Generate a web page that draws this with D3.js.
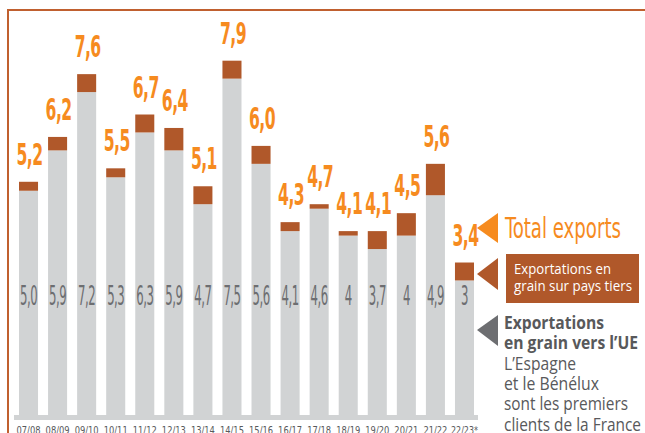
<!doctype html>
<html>
  <head>
    <script src="https://cdnjs.cloudflare.com/ajax/libs/d3/7.8.5/d3.min.js"></script>
    <style>
      body { margin: 0; background: #fff; }
      svg { display: block; }
    </style>
  </head>
  <body>
    <svg width="645" height="433"></svg>
    <script>
      var seasons = ["07/08","08/09","09/10","10/11","11/12","12/13","13/14","14/15","15/16","16/17","17/18","18/19","19/20","20/21","21/22","22/23*"];
      var totalExports = [5.2,6.2,7.6,5.5,6.7,6.4,5.1,7.9,6.0,4.3,4.7,4.1,4.1,4.5,5.6,3.4];
      var euExports = [5.0,5.9,7.2,5.3,6.3,5.9,4.7,7.5,5.6,4.1,4.6,4,3.7,4,4.9,3];
      var totalLabels = ["5,2","6,2","7,6","5,5","6,7","6,4","5,1","7,9","6,0","4,3","4,7","4,1","4,1","4,5","5,6","3,4"];
      var euLabels = ["5,0","5,9","7,2","5,3","6,3","5,9","4,7","7,5","5,6","4,1","4,6","4","3,7","4","4,9","3"];

      var orange = "#f68b1f", brown = "#b0582a", barGrey = "#d1d3d4",
          darkGrey = "#6d6e71", textGrey = "#58595b";
      var condensed = "'DejaVu Sans Condensed','DejaVu Sans',sans-serif";
      var sans = "'Open Sans','Noto Sans',sans-serif";

      var svg = d3.select("svg");

      var x = d3.scaleBand()
          .domain(seasons)
          .range([14, 479])
          .paddingInner(0.345)
          .paddingOuter(0.172);

      var y = d3.scaleLinear()
          .domain([0, 9])
          .range([415, 415 - 9 * 44.85]);

      var rows = seasons.map(function(s, i) {
        return { season: s, total: totalExports[i], eu: euExports[i],
                 totalLabel: totalLabels[i], euLabel: euLabels[i] };
      });

      // frame
      svg.append("path")
          .attr("d", "M8,433 V10 H645")
          .attr("fill", "none")
          .attr("stroke", "#c0602f")
          .attr("stroke-width", 2);

      var bars = svg.append("g").selectAll("g")
          .data(rows)
          .enter()
          .append("g");

      // EU part (grey)
      bars.append("rect")
          .attr("x", d => x(d.season))
          .attr("width", x.bandwidth())
          .attr("y", d => y(d.eu))
          .attr("height", d => y(0) - y(d.eu))
          .attr("fill", barGrey);

      // third countries part (brown)
      bars.append("rect")
          .attr("x", d => x(d.season))
          .attr("width", x.bandwidth())
          .attr("y", d => y(d.total))
          .attr("height", d => y(d.eu) - y(d.total))
          .attr("fill", brown);

      // baseline strip
      svg.append("rect")
          .attr("x", x.range()[0])
          .attr("width", x.range()[1] - x.range()[0] - 1)
          .attr("y", y(0))
          .attr("height", 5)
          .attr("fill", barGrey);

      // total labels
      bars.append("g")
          .attr("transform", d => "translate(" + (x(d.season) + x.bandwidth() / 2 + 1) + "," + (y(d.total) - 17) + ") scale(0.56,1)")
        .append("text")
          .attr("text-anchor", "middle")
          .attr("font-family", condensed)
          .attr("font-weight", "bold")
          .attr("font-size", 31)
          .attr("letter-spacing", -1)
          .attr("fill", orange)
          .text(d => d.totalLabel);

      // EU labels
      bars.append("g")
          .attr("transform", d => "translate(" + (x(d.season) + x.bandwidth() / 2) + ",305) scale(0.5,1)")
        .append("text")
          .attr("text-anchor", "middle")
          .attr("font-family", condensed)
          .attr("font-size", 26)
          .attr("letter-spacing", -1)
          .attr("fill", darkGrey)
          .text(d => d.euLabel);

      // x axis
      var xAxis = svg.append("g")
          .attr("transform", "translate(0,420)")
          .call(d3.axisBottom(x).tickSize(0).tickPadding(0));
      xAxis.select(".domain").remove();
      xAxis.selectAll("text")
          .attr("dy", null)
          .attr("y", 14)
          .attr("font-family", condensed)
          .attr("font-size", 11)
          .attr("textLength", d => d.length > 5 ? 27 : 24)
          .attr("lengthAdjust", "spacingAndGlyphs")
          .attr("fill", textGrey);

      // legend
      var lg = svg.append("g");
      lg.append("path").attr("d", "M477,228 L498,213 L498,243 Z").attr("fill", orange);
      lg.append("text")
          .attr("x", 505).attr("y", 238)
          .attr("font-family", condensed)
          .attr("font-size", 28)
          .attr("textLength", 116)
          .attr("lengthAdjust", "spacingAndGlyphs")
          .attr("fill", orange)
          .text("Total exports");

      lg.append("path").attr("d", "M477,274 L498,258 L498,290 Z").attr("fill", brown);
      lg.append("rect").attr("x", 506).attr("y", 254).attr("width", 133).attr("height", 49).attr("fill", brown);
      lg.append("g").selectAll("text")
          .data([{ t: "Exportations en", w: 97 }, { t: "grain sur pays tiers", w: 118 }])
          .enter().append("text")
          .attr("x", 514)
          .attr("y", (d, i) => 274 + i * 17)
          .attr("font-family", sans)
          .attr("font-size", 15)
          .attr("textLength", d => d.w)
          .attr("lengthAdjust", "spacingAndGlyphs")
          .attr("fill", "#fff")
          .text(d => d.t);

      lg.append("path").attr("d", "M477,330 L498,315 L498,346 Z").attr("fill", darkGrey);
      var legendLines = [
        { t: "Exportations", b: true, w: 100 },
        { t: "en grain vers l\u2019UE", b: true, w: 134 },
        { t: "L\u2019Espagne", b: false, w: 72 },
        { t: "et le B\u00e9n\u00e9lux", b: false, w: 95 },
        { t: "sont les premiers", b: false, w: 124 },
        { t: "clients de la France", b: false, w: 137 }
      ];
      lg.append("g").selectAll("text")
          .data(legendLines)
          .enter().append("text")
          .attr("x", 504)
          .attr("y", (d, i) => 329 + i * 20.3)
          .attr("font-family", sans)
          .attr("font-size", 18)
          .attr("font-weight", d => d.b ? "bold" : "normal")
          .attr("textLength", d => d.w)
          .attr("lengthAdjust", "spacingAndGlyphs")
          .attr("fill", textGrey)
          .text(d => d.t);
    </script>
  </body>
</html>
